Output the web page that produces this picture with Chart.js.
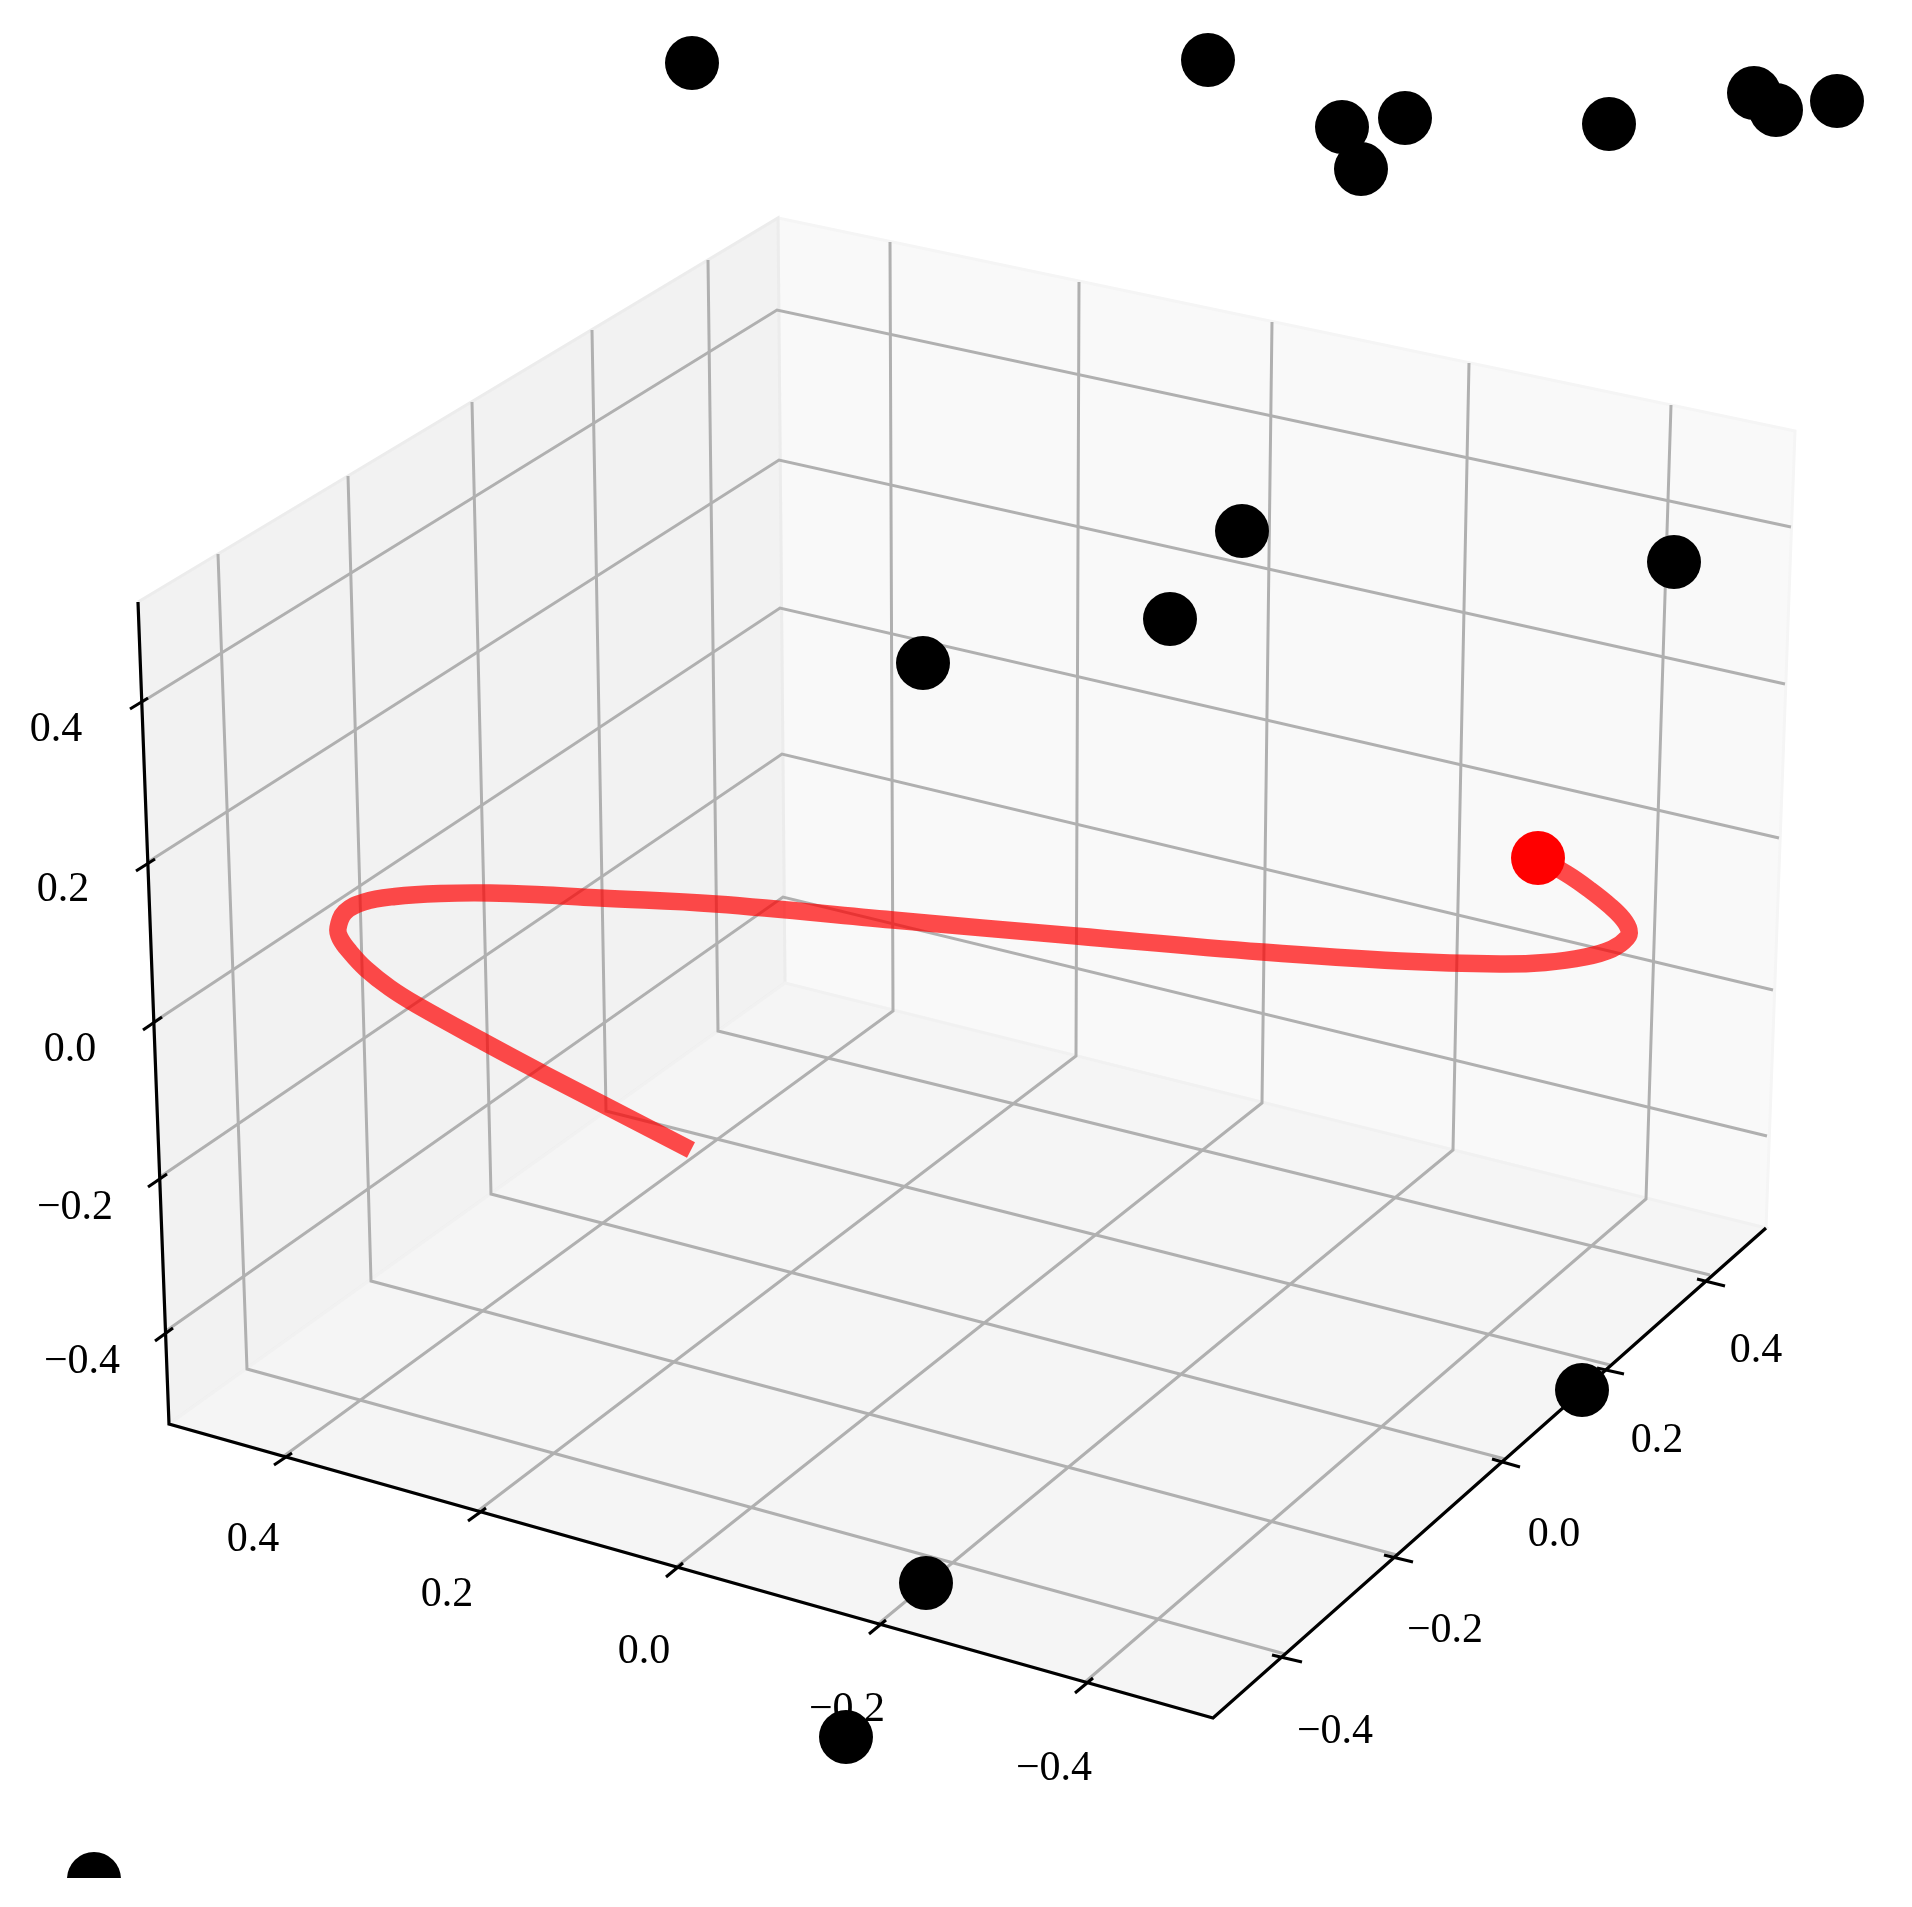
<!DOCTYPE html>
<html>
<head>
<meta charset="utf-8">
<style>html,body{margin:0;padding:0;background:#fff}canvas{display:block}</style>
<script src="https://cdn.jsdelivr.net/npm/chart.js@4"></script>
</head>
<body>
<canvas id="c" width="1912" height="1878"></canvas>
<script>
const tickLabels = ['\u22120.4', '\u22120.2', '0.0', '0.2', '0.4'];

const rightPaneX = [778, 1795, 1766, 785, 778];
const rightPaneY = [218, 431, 1228, 983, 218];
const leftPaneX = [138, 778, 785, 169, 138];
const leftPaneY = [602, 218, 983, 1424, 602];
const floorPaneX = [169, 785, 1766, 1213, 169];
const floorPaneY = [1424, 983, 1228, 1718, 1424];

// one line per tick, listed from -0.4 to 0.4
const zGridX = [[166,783,1767],[160,782,1773],[154,780,1779],[148,779,1785],[142,777,1791]];
const zGridY = [[1331,897,1136],[1177,754,990],[1022,608,838],[862,460,684],[702,310,527]];
const yGridX = [[218,247,1285],[348,371,1397],[472,491,1505],[592,606,1610],[708,718,1710]];
const yGridY = [[554,1369,1654],[476,1281,1555],[402,1194,1459],[330,1111,1365],[260,1031,1275]];
const xGridX = [[1671,1646,1084],[1469,1453,877],[1272,1262,675],[1079,1076,478],[890,893,284]];
const xGridY = [[405,1199,1683],[363,1150,1625],[322,1103,1568],[282,1056,1511],[242,1011,1456]];

const axisX = [138, 169, 1213, 1766];
const axisY = [602, 1424, 1718, 1228];

const zTickX = [[155,173],[148,167],[143,162],[136,155],[130,148]];
const zTickY = [[1341,1328],[1187,1174],[1030,1017],[871,859],[709,698]];
const yTickX = [[1272,1302],[1384,1413],[1492,1520],[1597,1624],[1697,1725]];
const yTickY = [[1655,1662],[1555,1562],[1459,1467],[1368,1374],[1279,1286]];
const xTickX = [[1075,1093],[869,886],[666,683],[468,486],[274,292]];
const xTickY = [[1693,1678],[1634,1620],[1577,1563],[1521,1508],[1465,1453]];

const zLabelX = [82, 75, 70, 63, 56];
const zLabelY = [1359, 1205, 1047, 887, 727];
const yLabelX = [1335, 1445, 1554, 1657, 1756];
const yLabelY = [1729, 1628, 1532, 1438, 1348];
const xLabelX = [1054, 847, 644, 447, 253];
const xLabelY = [1766, 1707, 1649, 1592, 1537];

const curveX = [691,604,542,484,417,390,366,350,340,338,345,364,395,440,490,546,600,716,893,1076,1263,1400,1500,1545,1585,1612,1627,1629,1623,1610,1590,1567,1538];
const curveY = [1150,1105,1073,1042,1005,988,969,952,938,928,912,902,896.5,893.5,893,895,898,904,920,936,952,961,964,962.5,957,949,938,930,919,906,890,874,858];

const blackX = [692,1208,1342,1405,1361,1609,1754,1776,1837,923,1170,1242,1674,1582,926,846,94];
const blackY = [63,60,127,118,169,124,93,110,101,663,619,531,562,1390,1583,1737,1879];
const redX = [1538];
const redY = [858];

const pts = (xs, ys) => xs.map((x, i) => ({x, y: ys[i]}));
const datasets = [];
const add = d => { d.order = -datasets.length; d.clip = false; datasets.push(d); };
const poly = (xs, ys, color, width, extra) => add(Object.assign({
  data: pts(xs, ys), showLine: true, pointRadius: 0, borderColor: color, borderWidth: width,
  borderCapStyle: 'butt', borderJoinStyle: 'miter', fill: false, tension: 0
}, extra || {}));

poly(rightPaneX, rightPaneY, '#f5f5f5', 3, {fill: 'shape', backgroundColor: '#f9f9f9'});
poly(leftPaneX, leftPaneY, '#ececec', 3, {fill: 'shape', backgroundColor: '#f2f2f2'});
poly(floorPaneX, floorPaneY, '#f1f1f1', 3, {fill: 'shape', backgroundColor: '#f5f5f5'});
[[xGridX, xGridY], [yGridX, yGridY], [zGridX, zGridY]].forEach(([gx, gy]) =>
  gx.forEach((xs, i) => poly(xs, gy[i], '#b0b0b0', 3)));
poly(axisX, axisY, '#000', 3.2);
[[xTickX, xTickY], [yTickX, yTickY], [zTickX, zTickY]].forEach(([tx, ty]) =>
  tx.forEach((xs, i) => poly(xs, ty[i], '#000', 3)));
poly(curveX, curveY, 'rgba(255,0,0,0.7)', 17.4, {tension: 0.4});
add({data: pts(blackX, blackY), showLine: false, pointRadius: 27, pointBorderWidth: 0, backgroundColor: '#000', pointBackgroundColor: '#000'});
add({data: pts(redX, redY), showLine: false, pointRadius: 27, pointBorderWidth: 0, backgroundColor: '#f00', pointBackgroundColor: '#f00'});

const tickText = {
  id: 'tickText',
  beforeDatasetsDraw(chart) {
    const {ctx, scales: {x, y}} = chart;
    ctx.save();
    ctx.fillStyle = '#000';
    ctx.font = '42px "Liberation Serif"';
    ctx.textAlign = 'center';
    ctx.textBaseline = 'alphabetic';
    [[xLabelX, xLabelY], [yLabelX, yLabelY], [zLabelX, zLabelY]].forEach(([lx, ly]) =>
      tickLabels.forEach((t, i) =>
        ctx.fillText(t, x.getPixelForValue(lx[i]), y.getPixelForValue(ly[i]) + 14)));
    ctx.restore();
  }
};

new Chart(document.getElementById('c'), {
  type: 'scatter',
  data: {datasets},
  plugins: [tickText],
  options: {
    responsive: false,
    animation: false,
    events: [],
    layout: {padding: 0, autoPadding: false},
    plugins: {legend: {display: false}, tooltip: {enabled: false}, title: {display: false}},
    scales: {
      x: {type: 'linear', min: 0, max: 1912, display: false},
      y: {type: 'linear', min: 0, max: 1878, reverse: true, display: false}
    }
  }
});
</script>
</body>
</html>
